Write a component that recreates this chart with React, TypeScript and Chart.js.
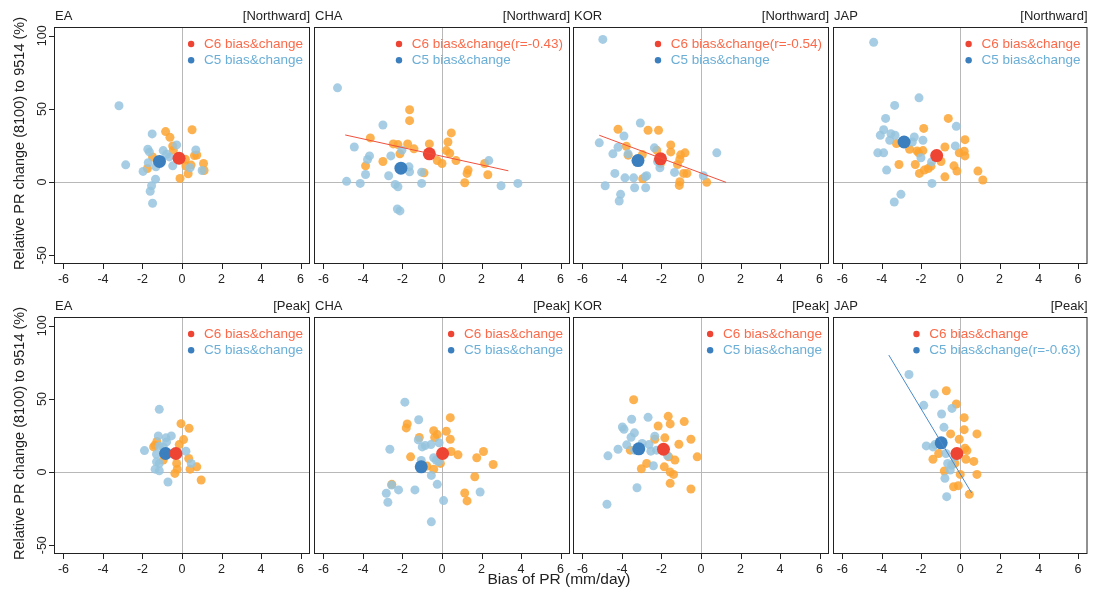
import React, { useEffect, useRef } from "react";
import { Chart, registerables } from "chart.js";

Chart.register(...registerables);

// ---------------- data ----------------
const REGION = ["EA", "CHA", "KOR", "JAP", "EA", "CHA", "KOR", "JAP"];
const STAGE = ["[Northward]", "[Northward]", "[Northward]", "[Northward]", "[Peak]", "[Peak]", "[Peak]", "[Peak]"];
const X_TICKS = [-6, -4, -2, 0, 2, 4, 6];
const Y_TICKS = [-50, 0, 50, 100];
const X_TITLE = "Bias of PR (mm/day)";
const Y_TITLE = "Relative PR change (8100) to 9514 (%)";
const C6_LABEL = "C6 bias&change";
const C5_LABEL = "C5 bias&change";
const C6_R: (string | null)[] = [null, "-0.43", "-0.54", null, null, null, null, null];
const C5_R: (string | null)[] = [null, null, null, null, null, null, null, "-0.63"];

// EA Northward
const EA_N_C6_BIAS = [-0.83, -0.61, 0.51, -0.47, -1.49, -1.75, -0.10, 0.31, 0.46, 0.63, 1.09, 1.12, 0.20, 0.17, -1.20, -0.44, 0.75];
const EA_N_C6_CHG = [34.5, 30.6, 35.8, 24.7, 17.2, 9.3, 2.5, 5.7, 11.6, 18.1, 12.7, 7.9, 11.0, 15.6, 15.0, 21.8, 18.5];
const EA_N_C5_BIAS = [-3.19, -2.85, -1.51, -1.73, -1.65, -1.71, -1.97, -1.34, -1.54, -1.61, -1.49, -0.95, -0.78, -0.47, -0.27, 0.70, 0.41, 1.02, -1.32, -0.64];
const EA_N_C5_CHG = [52.2, 11.8, 32.9, 22.4, 20.6, 13.2, 7.3, 2.0, -2.5, -6.3, -14.5, 21.5, 19.0, 11.1, 25.4, 22.0, 9.8, 7.9, 10.4, 17.2];

// CHA Northward
const CHA_N_C6_BIAS = [-1.64, -1.64, -3.63, -2.47, -2.23, -1.74, -1.42, -2.13, -3.87, -2.99, -0.64, 0.47, 0.30, 0.22, 0.39, -0.24, 0.00, 0.71, -0.91, 1.32, 1.27, 1.15, 2.16, 2.32];
const CHA_N_C6_CHG = [49.4, 42.0, 30.2, 26.1, 25.6, 26.1, 22.7, 19.3, 11.1, 14.1, 26.1, 33.6, 27.4, 21.5, 19.7, 14.7, 12.7, 14.7, 6.3, 8.2, 5.9, -0.5, 12.7, 5.0];
const CHA_N_C5_BIAS = [-5.29, -2.99, -4.44, -3.67, -3.77, -2.59, -2.03, -3.87, -4.83, -4.14, -2.70, -2.37, -2.23, -1.67, -1.64, -1.03, -1.03, -2.26, -2.13, 2.37, 2.99, 3.84];
const CHA_N_C5_CHG = [64.4, 39.0, 24.0, 17.9, 15.4, 17.9, 21.8, 5.2, 0.5, -0.9, 4.3, -1.6, -3.2, 10.4, 7.0, 6.8, -0.9, -18.4, -19.7, 14.7, -2.5, -0.9];
const CHA_N_FIT_BIAS = [-4.90, 3.36];
const CHA_N_FIT_CHG = [32.2, 7.7];

// KOR Northward
const KOR_N_C6_BIAS = [-4.20, -2.68, -2.15, -3.78, -3.69, -2.97, -2.24, -2.05, -1.53, -1.53, -1.03, -0.81, -1.07, -1.19, -0.88, -0.71, -1.07, -1.10, 0.29, -2.95];
const KOR_N_C6_CHG = [36.1, 35.4, 35.4, 24.5, 18.4, 18.8, 21.8, 12.7, 25.4, 20.6, 18.6, 20.0, 15.6, 12.0, 5.9, 5.9, 0.2, -2.3, -0.2, 2.3];
const KOR_N_C5_BIAS = [-4.97, -3.07, -3.90, -5.15, -4.20, -4.46, -3.69, -2.36, -2.20, -2.08, -4.36, -3.85, -3.41, -2.75, -2.83, -4.85, -3.36, -2.80, -4.07, -4.14, -1.34, 0.12, 0.80];
const KOR_N_C5_CHG = [97.5, 40.4, 31.5, 26.8, 23.8, 19.3, 19.3, 23.4, 14.1, 9.8, 5.9, 2.9, 2.9, 4.3, 3.6, -2.5, -3.9, -3.9, -8.4, -12.9, 6.6, 4.3, 20.0];
const KOR_N_FIT_BIAS = [-5.15, 1.27];
const KOR_N_FIT_CHG = [32.0, -0.2];

// JAP Northward
const JAP_N_C6_BIAS = [-0.61, -1.86, -3.25, -2.58, -2.20, -1.90, -2.12, -0.78, 0.24, 0.20, 0.24, -0.05, -0.98, -3.12, -2.29, -2.08, -1.83, -1.63, -1.49, -0.78, -0.32, -0.17, 0.90, 1.15];
const JAP_N_C6_CHG = [43.5, 36.7, 26.3, 22.4, 21.3, 21.5, 20.0, 24.0, 29.0, 21.1, 17.9, 20.0, 14.1, 12.0, 12.0, 5.9, 8.2, 9.3, 10.9, 3.6, 11.1, 7.5, 7.5, 1.4];
const JAP_N_C5_BIAS = [-4.41, -2.10, -3.34, -3.80, -3.90, -4.07, -3.53, -3.32, -3.59, -2.34, -2.44, -1.90, -0.20, -0.25, -4.20, -3.90, -2.00, -3.75, -1.46, -1.44, -3.02, -3.36];
const JAP_N_C5_CHG = [95.5, 57.6, 52.4, 43.5, 35.8, 32.0, 33.1, 32.0, 28.6, 30.8, 27.4, 28.6, 38.1, 24.7, 20.0, 20.0, 16.6, 8.2, 13.8, -0.9, -8.4, -13.6];

// EA Peak
const EA_P_C6_BIAS = [-0.05, 0.36, 0.08, -0.14, -1.37, -1.44, -1.27, 0.34, -0.27, -0.24, -0.36, 0.41, 0.75, 0.97, -0.95];
const EA_P_C6_CHG = [33.1, 29.9, 22.2, 18.8, 18.4, 17.2, 20.9, 9.3, 5.9, 2.0, -0.9, 2.0, 3.6, -5.4, 8.2];
const EA_P_C5_BIAS = [-1.15, -1.20, -0.54, -0.81, -1.90, -1.29, -1.29, -1.15, -1.36, -1.15, -0.71, 0.20, 0.47, -0.95, -0.78, -1.15];
const EA_P_C5_CHG = [42.9, 24.7, 24.7, 23.4, 14.7, 12.2, 7.0, 5.9, 2.0, 0.9, -6.8, 14.3, 5.9, 17.2, 20.6, 17.7];

// CHA Peak
const CHA_P_C6_BIAS = [0.42, -1.76, -1.81, -0.42, -0.24, -0.37, -1.15, 0.22, 0.42, -1.59, 0.46, 0.81, 2.10, 1.76, 2.59, -0.76, -0.42, -0.08, 1.66, -2.54, 1.15, 1.27];
const CHA_P_C6_CHG = [37.2, 32.9, 30.2, 28.3, 25.6, 23.6, 23.6, 27.9, 22.4, 10.4, 14.1, 11.8, 14.1, 9.8, 5.2, 4.1, 2.0, 5.9, -3.2, -8.4, -14.3, -19.7];
const CHA_P_C5_BIAS = [-1.88, -1.18, -1.20, -1.00, -0.85, -0.56, -0.15, -2.64, -1.05, -0.42, -0.30, -0.17, -0.54, -0.24, -2.55, -2.20, -2.82, -2.74, -1.37, 0.08, 1.93, -0.54];
const CHA_P_C5_CHG = [47.8, 35.8, 22.0, 17.2, 18.1, 18.8, 20.0, 15.6, 7.9, 9.8, 8.2, 7.0, -2.3, -8.4, -8.8, -12.2, -14.5, -20.6, -12.2, -19.5, -13.6, -34.0];

// KOR Peak
const KOR_P_C6_BIAS = [-3.41, -1.66, -1.56, -2.17, -0.85, -2.34, -1.83, -0.51, -1.12, -3.58, -0.19, -1.63, -1.32, -2.75, -3.02, -1.86, -1.56, -1.39, -1.56, -0.51];
const KOR_P_C6_CHG = [49.4, 38.1, 32.9, 31.5, 34.5, 22.4, 23.4, 22.4, 19.0, 15.0, 10.4, 10.4, 8.2, 5.9, 2.3, 3.6, 0.0, -1.6, -7.7, -11.6];
const KOR_P_C5_BIAS = [-2.68, -3.51, -3.98, -3.90, -3.37, -3.54, -2.34, -3.76, -4.20, -4.71, -2.98, -2.63, -2.54, -2.25, -1.69, -2.41, -3.24, -4.76, -3.36];
const KOR_P_C5_CHG = [37.4, 36.1, 30.8, 29.3, 26.8, 23.8, 24.5, 18.6, 15.6, 11.1, 19.5, 18.8, 14.3, 15.0, 11.1, 4.3, -10.7, -22.0, 15.0];

// JAP Peak
const JAP_P_C6_BIAS = [-0.71, -0.20, 0.20, 0.20, 0.85, -0.49, -0.05, 0.24, 0.34, -1.10, -1.39, 0.29, 0.69, -0.27, -0.81, 0.00, 0.85, -0.34, -0.10, 0.46];
const JAP_P_C6_CHG = [55.6, 46.5, 37.2, 29.0, 26.1, 26.1, 22.4, 16.3, 14.7, 12.7, 8.8, 8.8, 7.3, 5.9, 0.7, -1.6, -1.6, -10.0, -9.3, -15.2];
const JAP_P_C5_BIAS = [-2.61, -1.32, -1.86, -0.42, -0.95, -0.83, -1.73, -1.39, -1.29, -0.73, -0.44, -0.51, -0.78, -0.69, -0.27, -0.64];
const JAP_P_C5_CHG = [66.7, 53.3, 45.6, 43.5, 39.7, 30.6, 17.9, 17.2, 18.8, 12.7, 4.8, 1.4, -4.3, -16.8, 10.4, 5.9];
const JAP_P_FIT_BIAS = [-3.64, 0.58];
const JAP_P_FIT_CHG = [80.0, -14.3];

// multi-model means, panel order EA/CHA/KOR/JAP Northward, then Peak
const MEAN_C6_BIAS = [-0.15, -0.64, -2.05, -1.20, -0.31, 0.03, -1.90, -0.17];
const MEAN_C6_CHG = [16.3, 19.3, 15.9, 18.1, 12.7, 12.7, 15.6, 12.7];
const MEAN_C5_BIAS = [-1.14, -2.08, -3.19, -2.86, -0.83, -1.05, -3.15, -0.97];
const MEAN_C5_CHG = [14.1, 9.5, 14.7, 27.4, 12.7, 3.6, 15.9, 20.0];

type Panel = {
  c6b: number[]; c6c: number[]; c5b: number[]; c5c: number[];
  fitB?: number[]; fitC?: number[]; fitSeries?: "c6" | "c5";
};

const PANELS: Panel[] = [
  { c6b: EA_N_C6_BIAS, c6c: EA_N_C6_CHG, c5b: EA_N_C5_BIAS, c5c: EA_N_C5_CHG },
  { c6b: CHA_N_C6_BIAS, c6c: CHA_N_C6_CHG, c5b: CHA_N_C5_BIAS, c5c: CHA_N_C5_CHG, fitB: CHA_N_FIT_BIAS, fitC: CHA_N_FIT_CHG, fitSeries: "c6" },
  { c6b: KOR_N_C6_BIAS, c6c: KOR_N_C6_CHG, c5b: KOR_N_C5_BIAS, c5c: KOR_N_C5_CHG, fitB: KOR_N_FIT_BIAS, fitC: KOR_N_FIT_CHG, fitSeries: "c6" },
  { c6b: JAP_N_C6_BIAS, c6c: JAP_N_C6_CHG, c5b: JAP_N_C5_BIAS, c5c: JAP_N_C5_CHG },
  { c6b: EA_P_C6_BIAS, c6c: EA_P_C6_CHG, c5b: EA_P_C5_BIAS, c5c: EA_P_C5_CHG },
  { c6b: CHA_P_C6_BIAS, c6c: CHA_P_C6_CHG, c5b: CHA_P_C5_BIAS, c5c: CHA_P_C5_CHG },
  { c6b: KOR_P_C6_BIAS, c6c: KOR_P_C6_CHG, c5b: KOR_P_C5_BIAS, c5c: KOR_P_C5_CHG },
  { c6b: JAP_P_C6_BIAS, c6c: JAP_P_C6_CHG, c5b: JAP_P_C5_BIAS, c5c: JAP_P_C5_CHG, fitB: JAP_P_FIT_BIAS, fitC: JAP_P_FIT_CHG, fitSeries: "c5" },
];

// ---------------- layout / style ----------------
const W = 1094;
const H = 596;
const COL_LEFT = [54, 314, 573, 833];
const ROW_TOP = [27, 317];
const PW = 256;
const PH = 237;
const X_MIN = -6.48, X_MAX = 6.48;
const Y_MIN = -56, Y_MAX = 106;
const FONT = "'Liberation Sans', Arial, Helvetica, sans-serif";

const ORANGE = "rgba(253,165,50,0.85)";
const LIGHTBLUE = "rgba(150,196,222,0.85)";
const MEAN_RED = "#ee4433";
const MEAN_BLUE = "#3b7fbf";
const TEXT_RED = "#fb6a4a";
const TEXT_BLUE = "#6baed6";
const LINE_RED = "#f0503c";
const LINE_BLUE = "#4a8bc8";

const pts = (xs: number[], ys: number[]) => xs.map((v, i) => ({ x: v, y: ys[i] }));

function makePlugin(idx: number) {
  const col = idx % 4;
  const row = Math.floor(idx / 4);
  return {
    id: "panelDecor" + idx,
    beforeDatasetsDraw(chart: any) {
      const { ctx, chartArea: a, scales } = chart;
      const x0 = Math.round(scales.x.getPixelForValue(0)) + 0.5;
      const y0 = Math.round(scales.y.getPixelForValue(0)) + 0.5;
      ctx.save();
      ctx.strokeStyle = "#b8b8b8";
      ctx.lineWidth = 1;
      ctx.beginPath();
      ctx.moveTo(x0, a.top);
      ctx.lineTo(x0, a.bottom);
      ctx.moveTo(a.left, y0);
      ctx.lineTo(a.right, y0);
      ctx.stroke();
      ctx.restore();
    },
    afterDraw(chart: any) {
      const { ctx, chartArea: a, scales } = chart;
      ctx.save();
      // box
      ctx.strokeStyle = "#222";
      ctx.lineWidth = 1;
      ctx.strokeRect(a.left + 0.5, a.top + 0.5, a.right - a.left - 1, a.bottom - a.top - 1);
      // x ticks
      ctx.fillStyle = "#222";
      ctx.font = `12.5px ${FONT}`;
      ctx.textAlign = "center";
      ctx.textBaseline = "alphabetic";
      ctx.beginPath();
      for (const v of X_TICKS) {
        const px = Math.round(scales.x.getPixelForValue(v)) + 0.5;
        ctx.moveTo(px, a.bottom);
        ctx.lineTo(px, a.bottom + 5);
      }
      ctx.stroke();
      for (const v of X_TICKS) {
        const px = scales.x.getPixelForValue(v);
        ctx.fillText(String(v), px, a.bottom + 18.5);
      }
      // y ticks on first column
      if (col === 0) {
        ctx.beginPath();
        for (const v of Y_TICKS) {
          const py = Math.round(scales.y.getPixelForValue(v)) + 0.5;
          ctx.moveTo(a.left - 5, py);
          ctx.lineTo(a.left, py);
        }
        ctx.stroke();
        for (const v of Y_TICKS) {
          const py = scales.y.getPixelForValue(v);
          ctx.save();
          ctx.translate(a.left - 11, py);
          ctx.rotate(-Math.PI / 2);
          ctx.textAlign = "center";
          ctx.textBaseline = "middle";
          ctx.fillText(String(v), 0, 0);
          ctx.restore();
        }
        // y title
        ctx.save();
        ctx.font = `14.5px ${FONT}`;
        ctx.translate(23.5, (a.top + a.bottom) / 2 - 2);
        ctx.rotate(-Math.PI / 2);
        ctx.textAlign = "center";
        ctx.textBaseline = "alphabetic";
        ctx.fillText(Y_TITLE, 0, 0);
        ctx.restore();
      }
      // titles
      ctx.font = `13px ${FONT}`;
      ctx.textBaseline = "alphabetic";
      ctx.textAlign = "left";
      ctx.fillText(REGION[idx], a.left + 1, a.top - 7);
      ctx.textAlign = "right";
      ctx.fillText(STAGE[idx], a.right, a.top - 7);
      // legend
      ctx.font = `13.5px ${FONT}`;
      const l1 = C6_LABEL + (C6_R[idx] ? `(r=${C6_R[idx]})` : "");
      const l2 = C5_LABEL + (C5_R[idx] ? `(r=${C5_R[idx]})` : "");
      const maxW = Math.max(ctx.measureText(l1).width, ctx.measureText(l2).width);
      const tx = a.right - 7 - maxW;
      const dx = tx - 12.8;
      const ly1 = a.top + 17;
      const ly2 = a.top + 33.3;
      ctx.textAlign = "left";
      ctx.textBaseline = "middle";
      ctx.fillStyle = MEAN_RED;
      ctx.beginPath();
      ctx.arc(dx, ly1, 3.2, 0, Math.PI * 2);
      ctx.fill();
      ctx.fillStyle = TEXT_RED;
      ctx.fillText(l1, tx, ly1);
      ctx.fillStyle = MEAN_BLUE;
      ctx.beginPath();
      ctx.arc(dx, ly2, 3.2, 0, Math.PI * 2);
      ctx.fill();
      ctx.fillStyle = TEXT_BLUE;
      ctx.fillText(l2, tx, ly2);
      // shared x title
      if (idx === 5) {
        ctx.fillStyle = "#222";
        ctx.font = `15.5px ${FONT}`;
        ctx.textAlign = "center";
        ctx.textBaseline = "alphabetic";
        ctx.fillText(X_TITLE, 559, 584);
      }
      ctx.restore();
    },
  };
}

function PanelChart({ idx }: { idx: number }) {
  const ref = useRef<HTMLCanvasElement | null>(null);
  useEffect(() => {
    const p = PANELS[idx];
    const col = idx % 4;
    const row = Math.floor(idx / 4);
    const left = COL_LEFT[col];
    const top = ROW_TOP[row];
    const datasets: any[] = [];
    if (p.fitB && p.fitC) {
      datasets.push({
        data: pts(p.fitB, p.fitC),
        showLine: true,
        borderColor: p.fitSeries === "c5" ? LINE_BLUE : LINE_RED,
        borderWidth: 1,
        pointRadius: 0,
        pointHoverRadius: 0,
        order: 0,
      });
    }
    const pointDs = (data: any[], color: string, r: number, order: number) => ({
      data,
      showLine: false,
      pointRadius: r,
      pointHoverRadius: r,
      pointBackgroundColor: color,
      pointBorderColor: "rgba(0,0,0,0)",
      pointBorderWidth: 0,
      backgroundColor: color,
      borderColor: "rgba(0,0,0,0)",
      order,
    });
    datasets.push(pointDs([{ x: MEAN_C6_BIAS[idx], y: MEAN_C6_CHG[idx] }], MEAN_RED, 6.5, 1));
    datasets.push(pointDs([{ x: MEAN_C5_BIAS[idx], y: MEAN_C5_CHG[idx] }], MEAN_BLUE, 6.5, 2));
    datasets.push(pointDs(pts(p.c5b, p.c5c), LIGHTBLUE, 4.5, 3));
    datasets.push(pointDs(pts(p.c6b, p.c6c), ORANGE, 4.5, 4));

    const chart = new Chart(ref.current as HTMLCanvasElement, {
      type: "scatter",
      data: { datasets },
      options: {
        responsive: false,
        animation: false,
        events: [],
        layout: {
          padding: { left, top, right: W - left - PW, bottom: H - top - PH },
        },
        plugins: { legend: { display: false }, tooltip: { enabled: false } },
        scales: {
          x: { type: "linear", min: X_MIN, max: X_MAX, display: false },
          y: { type: "linear", min: Y_MIN, max: Y_MAX, display: false },
        },
      },
      plugins: [makePlugin(idx)],
    } as any);
    return () => chart.destroy();
  }, [idx]);
  return (
    <canvas
      ref={ref}
      width={W}
      height={H}
      style={{ position: "absolute", left: 0, top: 0, width: W, height: H }}
    />
  );
}

export default function App() {
  return (
    <div style={{ position: "absolute", left: 0, top: 0, width: W, height: H, background: "#fff", overflow: "hidden" }}>
      {PANELS.map((_, i) => (
        <PanelChart key={i} idx={i} />
      ))}
    </div>
  );
}
